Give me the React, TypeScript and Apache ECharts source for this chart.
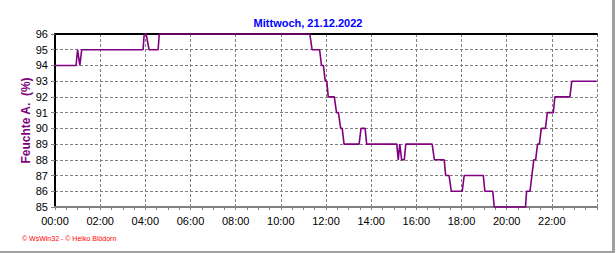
import React, { useEffect, useRef } from "react";
import * as echarts from "echarts";

const FONT = "'Liberation Sans', Arial, sans-serif";

const chartTitle = "Mittwoch, 21.12.2022";
const yAxisName = "Feuchte A.  (%)";
const credits = "© WsWin32 - © Heiko Blödorn";

const times = [
  "00:00", "00:56", "01:00", "01:06", "01:11",
  "03:54", "03:57", "04:02", "04:10", "04:34", "04:37",
  "11:17", "11:23", "11:43", "11:48", "11:53", "11:58", "12:02", "12:06",
  "12:22", "12:28", "12:33", "12:39", "12:43", "12:48",
  "13:28", "13:33", "13:44", "13:48",
  "15:08", "15:12", "15:16", "15:21", "15:28", "15:32",
  "16:42", "16:48", "17:14", "17:18", "17:27", "17:33",
  "18:02", "18:07", "18:58", "19:02", "19:23", "19:27",
  "20:50", "20:53", "21:02", "21:07", "21:12", "21:17", "21:22", "21:27",
  "21:32", "21:43", "21:48", "22:04", "22:08", "22:48", "22:53", "23:59",
];

const humidity = [
  94, 94, 95, 94, 95,
  95, 96, 96, 95, 95, 96,
  96, 95, 95, 94, 94, 93, 93, 92,
  92, 91, 91, 90, 90, 89,
  89, 90, 90, 89,
  89, 88, 89, 88, 88, 89,
  89, 88, 88, 87, 87, 86,
  86, 87, 87, 86, 86, 85,
  85, 86, 86, 87, 88, 88, 89, 89,
  90, 90, 91, 91, 92, 92, 93, 93,
];

const toHours = (s: string) => {
  const [h, m] = s.split(":").map(Number);
  return h + m / 60;
};

const pad = (n: number) => (n < 10 ? "0" + n : "" + n);

export default function App() {
  const ref = useRef<HTMLDivElement>(null);

  useEffect(() => {
    if (!ref.current) return;
    const chart = echarts.init(ref.current, undefined, { renderer: "svg" });
    const data = times.map((t, i) => [toHours(t), humidity[i]]);
    const grey = "#808080";
    chart.setOption({
      animation: false,
      backgroundColor: "#ffffff",
      title: {
        text: chartTitle,
        left: "center",
        top: 12,
        textStyle: { fontFamily: FONT, fontSize: 11, fontWeight: "bold", color: "#0000ff" },
      },
      grid: { left: 55, right: 19, top: 34, bottom: 46, show: false },
      xAxis: [
        {
          type: "value",
          min: 0,
          max: 24,
          interval: 2,
          axisLine: { show: true, onZero: false, lineStyle: { color: grey, width: 2 } },
          axisTick: { show: true, length: 3, lineStyle: { color: grey } },
          minorTick: { show: true, splitNumber: 4, length: 3, lineStyle: { color: grey } },
          axisLabel: {
            show: true,
            margin: 8,
            color: "#000",
            fontFamily: FONT,
            fontSize: 11,
            showMaxLabel: false,
            formatter: (v: number) => (v >= 24 ? "" : pad(v) + ":00"),
          },
          splitLine: { show: true, lineStyle: { color: grey, width: 1, type: [3, 2] } },
        },
        {
          type: "value",
          position: "top",
          min: 0,
          max: 24,
          axisLine: { show: true, lineStyle: { color: "#000", width: 2 } },
          axisTick: { show: false },
          axisLabel: { show: false },
          splitLine: { show: false },
        },
      ],
      yAxis: [
        {
          type: "value",
          min: 85,
          max: 96,
          interval: 1,
          name: yAxisName,
          nameLocation: "middle",
          nameRotate: 90,
          nameGap: 23,
          nameMoveOverlap: false,
          nameTextStyle: { fontFamily: FONT, fontSize: 12, fontWeight: "bold", color: "#800080" },
          axisLine: { show: true, lineStyle: { color: grey, width: 2 } },
          axisTick: { show: true, length: 4, lineStyle: { color: grey } },
          axisLabel: { show: true, margin: 7, color: "#000", fontFamily: FONT, fontSize: 11 },
          splitLine: { show: true, lineStyle: { color: grey, width: 1, type: [3, 2] } },
        },
        {
          type: "value",
          position: "right",
          min: 85,
          max: 96,
          axisLine: { show: true, lineStyle: { color: "#000", width: 2 } },
          axisTick: { show: false },
          axisLabel: { show: false },
          splitLine: { show: false },
        },
      ],
      series: [
        {
          type: "line",
          xAxisIndex: 0,
          yAxisIndex: 0,
          data,
          showSymbol: false,
          clip: false,
          lineStyle: { color: "#800080", width: 1.6 },
          z: 5,
        },
      ],
      graphic: [
        {
          type: "text",
          left: 22,
          top: 235,
          style: { text: credits, fill: "#ff0000", font: `7px ${FONT}` },
        },
        { type: "rect", shape: { x: 612, y: 0, width: 3, height: 253 }, style: { fill: "#a0a0a0" } },
        { type: "rect", shape: { x: 0, y: 251, width: 615, height: 2 }, style: { fill: "#a0a0a0" } },
      ],
    });
    return () => chart.dispose();
  }, []);

  return (
    <div
      ref={ref}
      style={{ position: "fixed", left: 0, top: 0, width: 616, height: 253, background: "#fff" }}
    />
  );
}
